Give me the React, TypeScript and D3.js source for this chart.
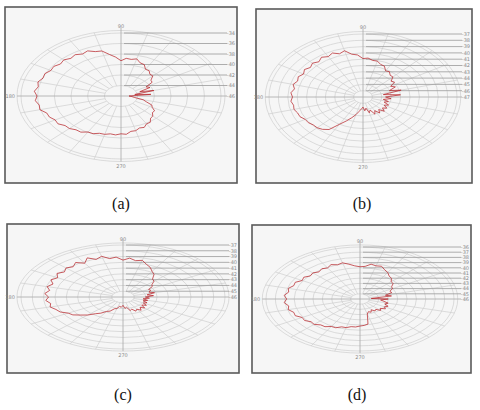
import React from 'react';
import * as d3 from 'd3';

// angle of every sample, degrees (0 = right, counter-clockwise)
const angles = d3.range(0, 360, 5);

// relative level (0 = centre ring, 1 = outer ring)
const levelA = [
  0.08, 0.30, 0.14, 0.34, 0.20, 0.32, 0.29, 0.38, 0.39, 0.45, 0.45, 0.49,
  0.49, 0.55, 0.56, 0.61, 0.59, 0.60, 0.56, 0.62, 0.67, 0.74, 0.75, 0.79,
  0.77, 0.80, 0.78, 0.81, 0.79, 0.82, 0.81, 0.84, 0.83, 0.86, 0.84, 0.87,
  0.84, 0.86, 0.83, 0.84, 0.79, 0.79, 0.76, 0.77, 0.73, 0.73, 0.70, 0.70,
  0.66, 0.66, 0.63, 0.63, 0.61, 0.62, 0.60, 0.61, 0.57, 0.57, 0.54, 0.55,
  0.51, 0.51, 0.46, 0.45, 0.41, 0.41, 0.36, 0.34, 0.27, 0.23, 0.14, 0.11,
];
const levelB = [
  0.24, 0.40, 0.22, 0.42, 0.30, 0.38, 0.34, 0.41, 0.39, 0.45, 0.45, 0.49,
  0.48, 0.54, 0.55, 0.59, 0.59, 0.62, 0.61, 0.67, 0.69, 0.76, 0.73, 0.77,
  0.74, 0.77, 0.73, 0.76, 0.73, 0.76, 0.73, 0.76, 0.74, 0.77, 0.74, 0.77,
  0.75, 0.77, 0.75, 0.76, 0.74, 0.74, 0.71, 0.71, 0.69, 0.69, 0.67, 0.63,
  0.50, 0.42, 0.35, 0.29, 0.23, 0.19, 0.16, 0.22, 0.18, 0.26, 0.22, 0.30,
  0.25, 0.31, 0.26, 0.32, 0.27, 0.31, 0.26, 0.30, 0.24, 0.28, 0.22, 0.30,
];
const levelC = [
  0.22, 0.30, 0.24, 0.32, 0.27, 0.30, 0.29, 0.35, 0.37, 0.43, 0.45, 0.53,
  0.57, 0.63, 0.67, 0.73, 0.71, 0.75, 0.71, 0.77, 0.75, 0.81, 0.77, 0.83,
  0.75, 0.81, 0.76, 0.79, 0.75, 0.79, 0.74, 0.78, 0.73, 0.77, 0.73, 0.77,
  0.73, 0.76, 0.72, 0.74, 0.70, 0.68, 0.62, 0.60, 0.54, 0.49, 0.42, 0.38,
  0.32, 0.30, 0.24, 0.23, 0.18, 0.20, 0.16, 0.22, 0.20, 0.27, 0.25, 0.30,
  0.27, 0.31, 0.26, 0.30, 0.24, 0.28, 0.23, 0.26, 0.21, 0.25, 0.20, 0.26,
];
const levelD = [
  0.30, 0.12, 0.34, 0.28, 0.36, 0.35, 0.40, 0.41, 0.46, 0.47, 0.52, 0.54,
  0.59, 0.62, 0.67, 0.66, 0.68, 0.63, 0.62, 0.64, 0.68, 0.72, 0.70, 0.73,
  0.69, 0.71, 0.68, 0.71, 0.69, 0.73, 0.71, 0.76, 0.75, 0.79, 0.77, 0.81,
  0.78, 0.81, 0.77, 0.79, 0.75, 0.76, 0.71, 0.72, 0.68, 0.69, 0.65, 0.65,
  0.61, 0.61, 0.57, 0.57, 0.54, 0.54, 0.52, 0.51, 0.49, 0.30, 0.26, 0.28,
  0.24, 0.28, 0.26, 0.31, 0.28, 0.33, 0.30, 0.33, 0.28, 0.31, 0.26, 0.22,
];

// ring labels, outer ring first
const ringsA = ['-34', '-36', '-38', '-40', '-42', '-44', '-46'];
const ringsB = ['-37', '-38', '-39', '-40', '-41', '-42', '-43', '-44', '-45', '-46', '-47'];
const ringsC = ['-37', '-38', '-39', '-40', '-41', '-42', '-43', '-44', '-45', '-46'];
const ringsD = ['-36', '-37', '-38', '-39', '-40', '-41', '-42', '-43', '-44', '-45', '-46'];

const angleLabels = [
  { deg: 90, text: '90' },
  { deg: 180, text: '180' },
  { deg: 270, text: '270' },
];

const captions = ['(a)', '(b)', '(c)', '(d)'];

const panels = [
  { values: levelA, rings: ringsA, box: [5, 7, 237, 183], cx: 121, cy: 96, rx: 100, ry: 63, cap: [121, 209] },
  { values: levelB, rings: ringsB, box: [256, 9, 472, 183], cx: 363, cy: 97, rx: 94, ry: 63, cap: [362, 209] },
  { values: levelC, rings: ringsC, box: [7, 224, 239, 373], cx: 123, cy: 297, rx: 102, ry: 52, cap: [123, 400] },
  { values: levelD, rings: ringsD, box: [252, 225, 471, 373], cx: 360, cy: 299, rx: 94, ry: 52, cap: [357, 400] },
];

const GRID = '#cfcfcf';
const AXIS = '#a8a8a8';
const LEADER = '#9a9a9a';
const LABEL = '#8a8a8a';
const RED = '#b8282d';
const OUTER = 1.04;
const FONT = 'DejaVu Sans, sans-serif';

function Polar({ p, caption }: { p: any; caption: string }) {
  const [x0, y0, x1, y1] = p.box;
  const n = p.rings.length - 1;
  const r = d3.scaleLinear().domain([0, 1]).range([0, 1]);
  const px = (deg: number, v: number) => p.cx + r(v) * p.rx * Math.cos((deg * Math.PI) / 180);
  const py = (deg: number, v: number) => p.cy - r(v) * p.ry * Math.sin((deg * Math.PI) / 180);

  const line = d3
    .line<number>()
    .x((v, i) => px(angles[i], v))
    .y((v, i) => py(angles[i], v))
    .curve(d3.curveLinearClosed);

  const ringSteps = d3.range(1, n + 1).map((k) => k / n);
  const spokes = d3.range(0, 360, 15).filter((a) => a % 90 !== 0);
  const labelEnd = x1 - 2;
  const leaderEnd = x1 - 10;

  return (
    <g>
      <rect x={x0} y={y0} width={x1 - x0} height={y1 - y0} fill="#f6f6f6" stroke="#5a5a5a" strokeWidth={1.6} />
      {ringSteps.map((s, i) => (
        <ellipse key={'r' + i} cx={p.cx} cy={p.cy} rx={r(s) * p.rx} ry={r(s) * p.ry} fill="none" stroke={GRID} strokeWidth={0.7} />
      ))}
      <ellipse cx={p.cx} cy={p.cy} rx={p.rx * OUTER} ry={p.ry * OUTER} fill="none" stroke={GRID} strokeWidth={0.7} />
      {spokes.map((a) => (
        <line key={'s' + a} x1={px(a, ringSteps[0])} y1={py(a, ringSteps[0])} x2={px(a, OUTER)} y2={py(a, OUTER)} stroke={GRID} strokeWidth={0.7} />
      ))}
      <line x1={px(180, OUTER)} y1={p.cy} x2={leaderEnd} y2={p.cy} stroke={AXIS} strokeWidth={0.8} />
      <line x1={p.cx} y1={py(90, OUTER) - 3} x2={p.cx} y2={py(270, OUTER)} stroke={AXIS} strokeWidth={0.8} />
      {p.rings.map((t: string, i: number) => {
        const y = py(90, 1 - i / n);
        return (
          <g key={'l' + i}>
            {i < n && <line x1={p.cx + 3} y1={y} x2={leaderEnd} y2={y} stroke={LEADER} strokeWidth={0.8} />}
            <text x={labelEnd} y={y + 1.8} fontSize={5} fill={LABEL} textAnchor="end" fontFamily={FONT}>
              {t}
            </text>
          </g>
        );
      })}
      {angleLabels.map((l) => {
        const ax = px(l.deg, OUTER);
        const ay = py(l.deg, OUTER);
        if (l.deg === 90)
          return <text key={l.text} x={ax} y={ay - 2} fontSize={5} fill={LABEL} textAnchor="middle" fontFamily={FONT}>{l.text}</text>;
        if (l.deg === 270)
          return <text key={l.text} x={ax} y={ay + 6} fontSize={5} fill={LABEL} textAnchor="middle" fontFamily={FONT}>{l.text}</text>;
        return <text key={l.text} x={ax - 2} y={ay + 1.8} fontSize={5} fill={LABEL} textAnchor="end" fontFamily={FONT}>{l.text}</text>;
      })}
      <path d={line(p.values) || ''} fill="none" stroke={RED} strokeWidth={0.75} strokeLinejoin="round" />
      <text x={p.cap[0]} y={p.cap[1]} fontSize={16} textAnchor="middle" fontFamily="Liberation Serif, Times New Roman, serif" fill="#111">
        {caption}
      </text>
    </g>
  );
}

export default function App() {
  return (
    <svg width={480} height={410} style={{ position: 'absolute', left: 0, top: 0, background: '#fff' }}>
      {panels.map((p, i) => (
        <Polar key={i} p={p} caption={captions[i]} />
      ))}
    </svg>
  );
}
